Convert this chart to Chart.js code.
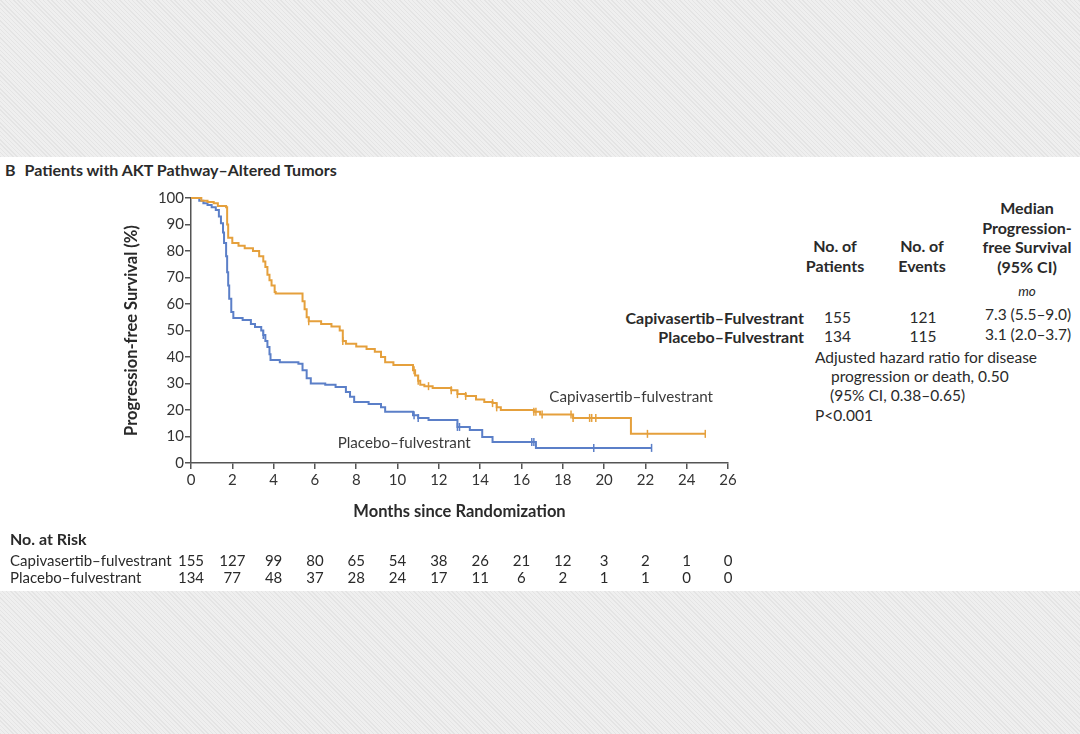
<!DOCTYPE html>
<html>
<head>
<meta charset="utf-8">
<script src="https://cdn.jsdelivr.net/npm/chart.js@4/dist/chart.umd.min.js"></script>
<style>
  html, body { margin: 0; padding: 0; }
  body {
    width: 1080px; height: 734px; overflow: hidden; position: relative;
    font-family: Lato, "Open Sans", sans-serif; color: #2a2a2a;
    background: repeating-linear-gradient(45deg, #e4e4e4 0 1px, #efefef 1px 3px);
  }
  #band { position: absolute; left: 0; top: 157px; width: 1080px; height: 434px; background: #fff; }
  #chart { position: absolute; left: 0; top: 0; }
  .t { position: absolute; white-space: nowrap; font-size: 15.5px; line-height: 19.5px; }
  .b { font-weight: bold; }
  .c { text-align: center; }
  .r { text-align: right; }
</style>
</head>
<body>
<div id="band"></div>
<div class="t b" style="left:5px;top:160px;font-size:16px;">B<span style="display:inline-block;width:9px;"></span>Patients with AKT Pathway–Altered Tumors</div>

<div class="t b c" style="left:967px;top:198px;width:120px;font-size:16px;">Median<br>Progression-<br>free Survival<br>(95% CI)</div>
<div class="t b c" style="left:775px;top:236px;width:120px;font-size:16px;">No. of<br>Patients</div>
<div class="t b c" style="left:862px;top:236px;width:120px;font-size:16px;">No. of<br>Events</div>
<div class="t c" style="left:977px;top:282px;width:100px;font-style:italic;font-size:13.5px;">mo</div>

<div class="t b r" style="left:540px;top:308px;width:264px;font-size:16px;">Capivasertib–Fulvestrant</div>
<div class="t b r" style="left:540px;top:327px;width:264px;font-size:16px;">Placebo–Fulvestrant</div>
<div class="t" style="left:824px;top:308px;">155</div>
<div class="t" style="left:824px;top:327px;">134</div>
<div class="t c" style="left:893px;top:308px;width:60px;">121</div>
<div class="t c" style="left:893px;top:327px;width:60px;">115</div>
<div class="t" style="left:985px;top:305px;">7.3 (5.5–9.0)</div>
<div class="t" style="left:985px;top:325px;">3.1 (2.0–3.7)</div>
<div class="t" style="left:815px;top:348px;">Adjusted hazard ratio for disease</div>
<div class="t" style="left:831px;top:367px;">progression or death, 0.50</div>
<div class="t" style="left:830px;top:386px;">(95% CI, 0.38–0.65)</div>
<div class="t" style="left:815px;top:406px;">P&lt;0.001</div>

<canvas id="chart" width="1080" height="734"></canvas>

<script>
// Kaplan-Meier steps (month, % progression-free)
const capTime = [0, 0.5, 0.8, 1.1, 1.3, 1.7, 1.75, 1.8, 2.0, 2.3, 2.6, 3.0, 3.3, 3.5, 3.6, 3.7, 3.8, 3.9, 4.05, 4.1,
  5.4, 5.5, 5.6, 5.7, 6.3, 6.8, 7.2, 7.35, 7.5, 8.0, 8.5, 8.9, 9.2, 9.4, 9.8, 10.75, 10.85, 11.0, 11.1, 11.3,
  11.7, 12.6, 12.9, 13.3, 13.8, 14.2, 14.6, 14.8, 15.0, 16.6, 16.9, 18.5, 21.3, 24.9];
const capSurv = [100, 99, 98.5, 98, 97, 96.5, 90, 85, 83, 82, 81, 80, 78, 76, 74, 71, 69, 67, 64.5, 64,
  61, 58, 55, 53.5, 52.5, 51.5, 50, 46, 45, 44, 43, 42, 40, 38, 37, 35, 33, 31, 29.5, 29,
  28.3, 27.5, 26, 25.3, 24, 23, 22.6, 21, 20, 19.3, 18.3, 17, 11, 11];

const plaTime = [0, 0.4, 0.6, 0.8, 1.0, 1.2, 1.35, 1.45, 1.55, 1.6, 1.7, 1.75, 1.8, 1.85, 1.95, 2.05, 2.5, 2.9, 3.1,
  3.4, 3.5, 3.6, 3.7, 3.8, 3.85, 4.3, 5.2, 5.4, 5.6, 5.8, 6.5, 7.0, 7.5, 7.7, 7.9, 8.6, 9.2, 9.4,
  10.75, 11.0, 11.5, 12.9, 13.5, 14.1, 14.6, 16.7, 22.3];
const plaSurv = [100, 99, 98, 97.4, 96.5, 95.5, 93, 90.5, 87, 83, 78, 72, 67, 62, 57, 54.7, 54, 52.5, 51.3,
  50, 48.3, 46, 43.8, 41, 38.9, 38, 37.5, 35, 32, 30, 29.5, 28.7, 26.8, 25, 23, 22.3, 21, 19.3,
  18, 17, 16.2, 13.6, 12.5, 9.8, 7.9, 5.7, 5.7];

// censoring marks (months)
const capCensor = [5.7, 7.35, 10.8, 11.0, 11.5, 12.6, 12.9, 13.3, 14.6, 14.8, 16.6, 16.7, 17.0, 18.4, 18.5, 19.3, 19.4, 19.6, 22.1, 24.9];
const plaCensor = [3.5, 10.8, 11.0, 12.9, 13.0, 16.5, 16.6, 19.5, 22.3];

// number at risk
const riskMonths = [0, 2, 4, 6, 8, 10, 12, 14, 16, 18, 20, 22, 24, 26];
const capRisk = [155, 127, 99, 80, 65, 54, 38, 26, 21, 12, 3, 2, 1, 0];
const plaRisk = [134, 77, 48, 37, 28, 24, 17, 11, 6, 2, 1, 1, 0, 0];

const capColor = "#E5A03C";
const plaColor = "#5B7FC8";

function stepAt(times, surv, t) {
  let v = surv[0];
  for (let i = 0; i < times.length; i++) {
    if (times[i] <= t) v = surv[i];
  }
  return v;
}
function pts(xs, ys) { return xs.map((x, i) => ({ x: x, y: ys[i] })); }

const textPlugin = {
  id: "kmText",
  afterDraw(chart) {
    const ctx = chart.ctx;
    const xs = chart.scales.x, ys = chart.scales.y;
    ctx.save();
    ctx.fillStyle = "#3a3a3a";
    ctx.font = "15.2px Lato";
    ctx.textBaseline = "middle";
    ctx.textAlign = "left";
    ctx.fillText("Capivasertib–fulvestrant", xs.getPixelForValue(17.35), ys.getPixelForValue(24.8));
    ctx.fillText("Placebo–fulvestrant", xs.getPixelForValue(7.1), ys.getPixelForValue(7.5));

    // risk table
    ctx.fillStyle = "#2a2a2a";
    ctx.font = "bold 16px Lato";
    ctx.fillText("No. at Risk", 10, 540);
    ctx.font = "15px Lato";
    ctx.fillText("Capivasertib–fulvestrant", 10, 561);
    ctx.fillText("Placebo–fulvestrant", 10, 578);
    ctx.textAlign = "center";
    riskMonths.forEach((m, i) => {
      const px = xs.getPixelForValue(m);
      ctx.fillText(String(capRisk[i]), px, 561);
      ctx.fillText(String(plaRisk[i]), px, 578);
    });
    ctx.restore();
  }
};

const tickFont = { family: "Lato", size: 15 };

new Chart(document.getElementById("chart"), {
  type: "line",
  data: {
    datasets: [
      { data: pts(capTime, capSurv), borderColor: capColor, borderWidth: 2, stepped: true, pointRadius: 0, clip: false },
      { data: pts(plaTime, plaSurv), borderColor: plaColor, borderWidth: 2, stepped: true, pointRadius: 0, clip: false },
      { type: "scatter", data: capCensor.map(t => ({ x: t, y: stepAt(capTime, capSurv, t) })),
        pointStyle: "line", rotation: 90, pointRadius: 4, borderColor: capColor, borderWidth: 1.5, clip: false },
      { type: "scatter", data: plaCensor.map(t => ({ x: t, y: stepAt(plaTime, plaSurv, t) })),
        pointStyle: "line", rotation: 90, pointRadius: 4, borderColor: plaColor, borderWidth: 1.5, clip: false }
    ]
  },
  options: {
    responsive: false,
    animation: false,
    layout: { padding: { left: 118, right: 352, top: 198, bottom: 211 } },
    plugins: { legend: { display: false }, tooltip: { enabled: false } },
    scales: {
      x: {
        type: "linear", min: 0, max: 26,
        afterFit: (s) => { s.height = 60; },
        ticks: { stepSize: 2, color: "#333", font: tickFont, padding: 2, maxRotation: 0 },
        grid: { drawOnChartArea: false, drawTicks: true, tickLength: 6, color: "#555", lineWidth: 1.5 },
        border: { display: true, color: "#555", width: 1.5 },
        title: { display: true, text: "Months since Randomization", color: "#2a2a2a",
          font: { family: "Lato", size: 16.5, weight: "bold" }, padding: { top: 0, bottom: 1 } }
      },
      y: {
        min: 0, max: 100,
        afterFit: (s) => { s.width = 73; },
        ticks: { stepSize: 10, color: "#333", font: tickFont, padding: 1 },
        grid: { drawOnChartArea: false, drawTicks: true, tickLength: 6, color: "#555", lineWidth: 1.5 },
        border: { display: true, color: "#555", width: 1.5 },
        title: { display: true, text: "Progression-free Survival (%)", color: "#2a2a2a",
          font: { family: "Lato", size: 16.5, weight: "bold" }, padding: { top: 4, bottom: 0 } }
      }
    }
  },
  plugins: [textPlugin]
});
</script>
</body>
</html>
